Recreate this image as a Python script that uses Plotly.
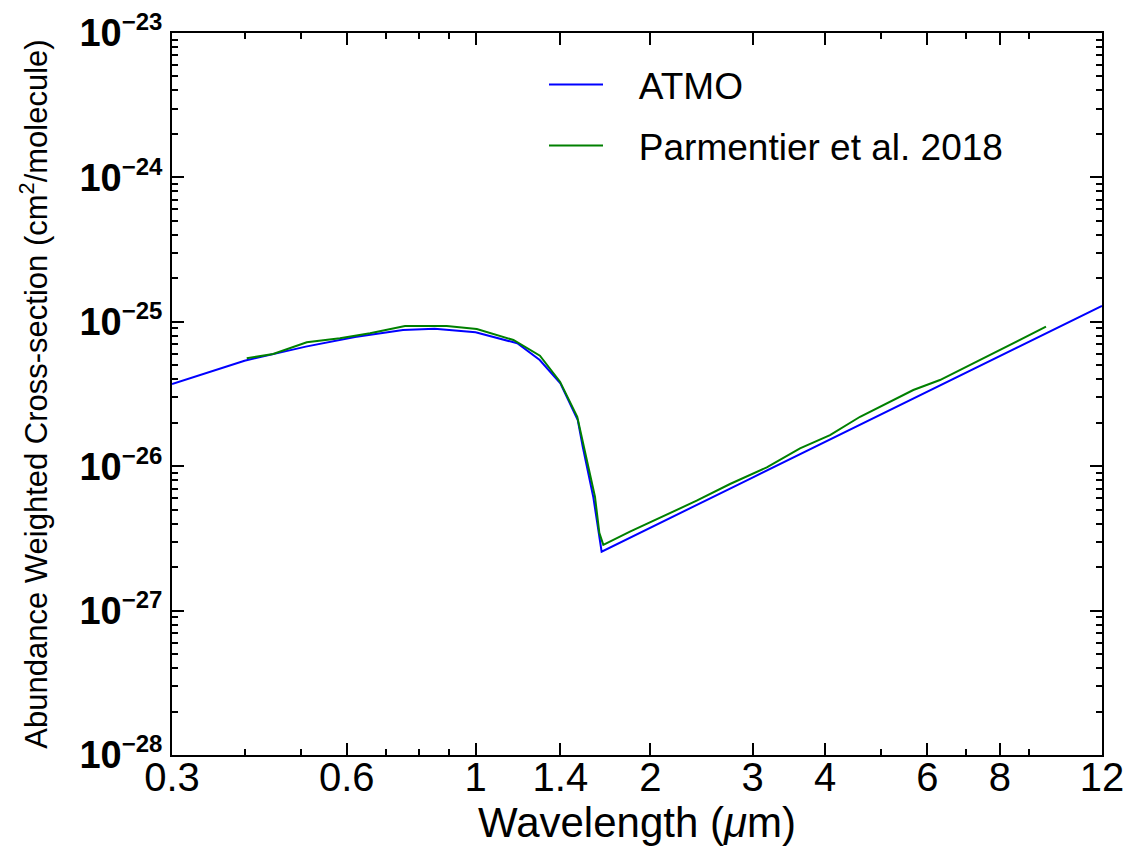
import plotly.graph_objects as go

# ---- data ----
atmo_wavelength = [0.30, 0.40, 0.51, 0.62, 0.75, 0.85, 1.00, 1.18, 1.29, 1.40,
                   1.50, 1.53, 1.595, 1.626, 1.649, 3.0, 6.0, 12.0]
atmo_xsec = [3.71e-26, 5.38e-26, 6.73e-26, 7.85e-26, 8.78e-26, 8.96e-26, 8.46e-26,
             7.10e-26, 5.44e-26, 3.75e-26, 2.09e-26, 1.36e-26, 6.15e-27, 3.61e-27,
             2.56e-27, 8.34e-27, 3.27e-26, 1.287e-25]

parm_wavelength = [0.4035, 0.448, 0.512, 0.584, 0.658, 0.756, 0.892, 1.005, 1.162,
                   1.291, 1.398, 1.497, 1.606, 1.634, 1.660, 1.845, 2.404, 2.744,
                   3.175, 3.622, 4.08, 4.596, 5.677, 6.31, 7.30, 8.44, 9.61]
parm_xsec = [5.59e-26, 5.98e-26, 7.21e-26, 7.69e-26, 8.33e-26, 9.35e-26, 9.35e-26,
             8.91e-26, 7.48e-26, 5.82e-26, 3.85e-26, 2.20e-26, 6.15e-27, 3.46e-27,
             2.85e-27, 3.52e-27, 5.77e-27, 7.53e-27, 9.82e-27, 1.33e-26, 1.64e-26,
             2.20e-26, 3.37e-26, 3.95e-26, 5.30e-26, 7.10e-26, 9.25e-26]

series_names = ["ATMO", "Parmentier et al. 2018"]
series_colors = ["#0000ff", "#008000"]

x_tickvals = [0.3, 0.6, 1, 1.4, 2, 3, 4, 6, 8, 12]
x_ticktext = ["0.3", "0.6", "1", "1.4", "2", "3", "4", "6", "8", "12"]
x_minor = [0.4, 0.5, 0.7, 0.8, 0.9, 5, 7, 9]

y_tickvals = [1e-28, 1e-27, 1e-26, 1e-25, 1e-24, 1e-23]
y_exponent_text = ["\u221228", "\u221227", "\u221226", "\u221225", "\u221224", "\u221223"]
y_ticktext = ["<b>10<sup><span style='font-size:24px'>%s</span></sup></b>" % t
              for t in y_exponent_text]
y_minor = [k * d for d in y_tickvals[:-1] for k in range(2, 10)]

FONT = "Liberation Sans, Arial, sans-serif"
PAD = "\u00a0\u00a0\u00a0"

fig = go.Figure()
fig.add_trace(go.Scatter(x=atmo_wavelength, y=atmo_xsec, mode="lines",
                         name=PAD + series_names[0], legendgroup="a",
                         line=dict(color=series_colors[0], width=2)))
fig.add_trace(go.Scatter(x=parm_wavelength, y=parm_xsec, mode="lines",
                         name=PAD + series_names[1], legendgroup="b",
                         line=dict(color=series_colors[1], width=2)))

axis_common = dict(
    showline=True, linecolor="black", linewidth=2, mirror="allticks",
    ticks="inside", ticklen=12, tickwidth=2, tickcolor="black",
    showgrid=False, zeroline=False, ticklabeloverflow="allow",
)

fig.update_xaxes(
    type="log", range=[-0.5229, 1.07919],
    tickmode="array", tickvals=x_tickvals, ticktext=x_ticktext,
    tickfont=dict(family=FONT, size=40, color="black"),
    ticklabelstandoff=-14,
    minor=dict(tickmode="array", tickvals=x_minor, ticks="inside", ticklen=6,
               tickwidth=1.5, tickcolor="black", showgrid=False),
    title=dict(text="Wavelength (<i>\u03bc</i>m)", standoff=9,
               font=dict(family=FONT, size=42, color="black")),
    **axis_common,
)
fig.update_yaxes(
    type="log", range=[-28.0001, -22.9999],
    tickmode="array", tickvals=y_tickvals, ticktext=y_ticktext,
    tickfont=dict(family=FONT, size=38, color="black"),
    minor=dict(tickmode="array", tickvals=y_minor, ticks="inside", ticklen=6,
               tickwidth=1.5, tickcolor="black", showgrid=False),
    title=dict(text="Abundance Weighted Cross-section (cm<sup>2</sup>/molecule)", standoff=23,
               font=dict(family=FONT, size=31, color="black")),
    **axis_common,
)

fig.update_layout(
    width=1140, height=865,
    margin=dict(l=164, r=46, t=25, b=118, autoexpand=False),
    paper_bgcolor="white", plot_bgcolor="white",
    showlegend=True,
    legend=dict(x=0.40, y=0.971, xanchor="left", yanchor="top",
                bgcolor="rgba(0,0,0,0)", borderwidth=0, tracegroupgap=10,
                itemwidth=54,
                font=dict(family=FONT, size=37, color="black")),
)

fig.write_html("out.html")
